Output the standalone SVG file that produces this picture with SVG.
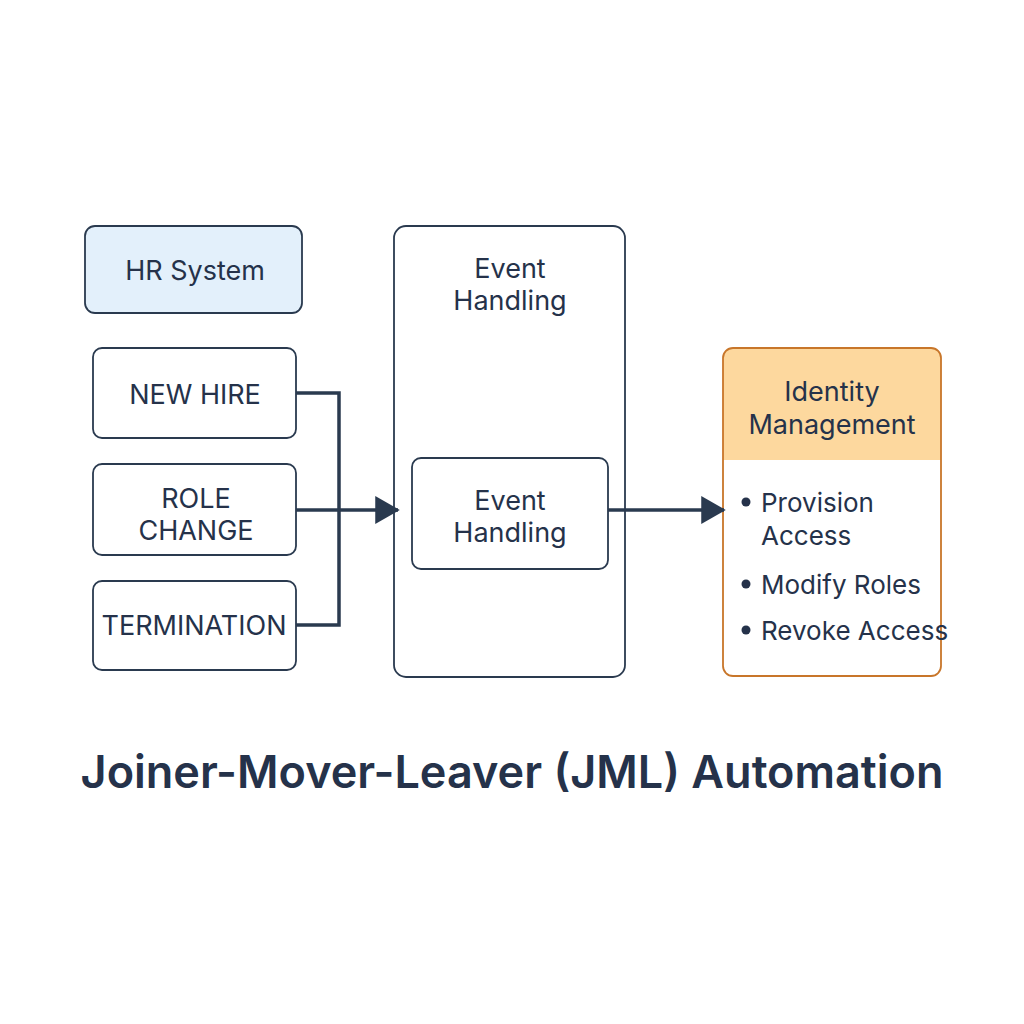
<svg xmlns="http://www.w3.org/2000/svg" width="1024" height="1024" viewBox="0 0 1024 1024">
<defs>
<style>
.box{fill:#ffffff;stroke:#2a3a4f;stroke-width:1.8}
.t{font-family:Inter,"Noto Sans","Liberation Sans",sans-serif;font-size:27px;fill:#25324a;text-anchor:middle;dominant-baseline:central}
.l{font-family:Inter,"Noto Sans","Liberation Sans",sans-serif;font-size:26px;fill:#25324a;dominant-baseline:central}
.c{fill:none;stroke:#2a3a4f;stroke-width:3.5}
</style>
<marker id="ah" markerWidth="7" markerHeight="8" refX="6.5" refY="4" orient="auto" markerUnits="strokeWidth">
<path d="M0,0 L7,4 L0,8 z" fill="#2a3a4f"/>
</marker>
</defs>
<rect width="1024" height="1024" fill="#ffffff"/>
<g id="hr-system">
<rect x="85" y="226" width="217" height="87" rx="10" fill="#e3f0fb" stroke="#2a3a4f" stroke-width="1.8"/>
<text class="t" x="195" y="270">HR System</text>
</g>
<g id="new-hire">
<rect class="box" x="93" y="348" width="203" height="90" rx="9"/>
<text class="t" x="195" y="394">NEW HIRE</text>
</g>
<g id="role-change">
<rect class="box" x="93" y="464" width="203" height="91" rx="9"/>
<text class="t" x="196" y="498">ROLE</text>
<text class="t" x="196" y="530">CHANGE</text>
</g>
<g id="termination">
<rect class="box" x="93" y="581" width="203" height="89" rx="9"/>
<text class="t" x="194" y="625" font-size="26">TERMINATION</text>
</g>
<g id="event-handling-outer">
<rect class="box" x="394" y="226" width="231" height="451" rx="12"/>
<text class="t" x="510" y="268">Event</text>
<text class="t" x="510" y="300">Handling</text>
</g>
<g id="event-handling-inner">
<rect class="box" x="412" y="458" width="196" height="111" rx="9"/>
<text class="t" x="510" y="500">Event</text>
<text class="t" x="510" y="532">Handling</text>
</g>
<g id="identity-management">
<path d="M733,348 H931 Q941,348 941,358 V460 H723 V358 Q723,348 733,348 Z" fill="#fdd89e"/>
<rect x="723" y="348" width="218" height="328" rx="10" fill="none" stroke="#c8762a" stroke-width="1.8"/>
<text class="t" x="832" y="391">Identity</text>
<text class="t" x="832" y="424">Management</text>
<circle cx="746" cy="502" r="4.5" fill="#25324a"/>
<text class="l" x="761" y="502">Provision</text>
<text class="l" x="761" y="535">Access</text>
<circle cx="746" cy="584" r="4.5" fill="#25324a"/>
<text class="l" x="761" y="584">Modify Roles</text>
<circle cx="746" cy="630" r="4.5" fill="#25324a"/>
<text class="l" x="761" y="630">Revoke Access</text>
</g>
<g id="connectors">
<path class="c" d="M296,393 H339 V625 H296"/>
<path class="c" d="M296,510 H398" marker-end="url(#ah)"/>
<path class="c" d="M608,510 H724" marker-end="url(#ah)"/>
</g>
<text x="512" y="771" font-family="Inter,'Noto Sans','Liberation Sans',sans-serif" font-size="45" font-weight="600" fill="#25324a" text-anchor="middle" dominant-baseline="central">Joiner-Mover-Leaver (JML) Automation</text>
</svg>
